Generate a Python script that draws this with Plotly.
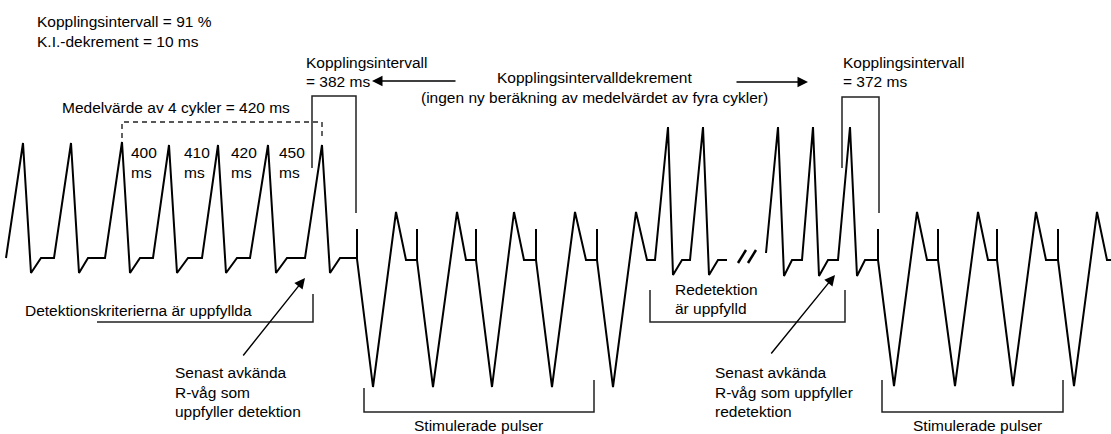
import plotly.graph_objects as go

# ---------------- data ----------------
# ECG trace, segment before the "//" break: time position, amplitude position
ecg_a_t = [6, 23, 31, 41, 54, 71, 79, 88, 105, 122, 130, 140, 153, 169, 177, 188, 202,
           218, 226, 237, 250, 268, 276, 287, 305, 322, 330, 340, 357, 357, 357,
           373, 396, 406, 417, 417, 417, 433, 457, 466, 476, 476, 476, 492, 514, 524,
           536, 536, 536, 552, 575, 586, 597, 597, 597, 613, 636, 647, 655,
           668, 673, 682, 690, 703, 709, 718, 727]
ecg_a_v = [258, 143, 273, 258, 258, 143, 273, 258, 258, 142, 273, 258, 258, 145, 273, 258, 258,
           145, 273, 258, 258, 145, 273, 258, 258, 145, 273, 258, 258, 229, 259,
           387, 212, 260, 260, 229, 260, 387, 212, 260, 260, 229, 260, 387, 212, 260,
           260, 229, 260, 387, 212, 260, 260, 229, 260, 387, 212, 260, 260,
           127, 275, 260, 260, 127, 275, 260, 260]
# ECG trace, segment after the break
ecg_b_t = [766, 778, 784, 792, 802, 813, 819, 828, 838, 850, 857, 865, 878, 878, 878,
           894, 917, 927, 938, 938, 938, 955, 978, 988, 997, 997, 997, 1013, 1036, 1046,
           1058, 1058, 1058, 1074, 1097, 1107, 1111]
ecg_b_v = [253, 127, 276, 260, 260, 127, 276, 260, 260, 127, 276, 260, 260, 229, 260,
           386, 212, 260, 260, 229, 260, 386, 212, 260, 260, 229, 260, 386, 212, 260,
           260, 229, 260, 386, 212, 260, 260]

# brackets / boxes
box1_x, box1_y = [312, 312, 356, 356], [168, 96, 96, 213]
box2_x, box2_y = [842, 842, 879, 879], [168, 97, 97, 213]
avg_x, avg_y = [122, 122, 322, 322], [138, 122, 122, 136]
det_x, det_y = [97, 313, 313], [322, 322, 294]
redet_x, redet_y = [650, 650, 845, 845], [290, 322, 322, 290]
stim1_x, stim1_y = [364, 364, 594, 594], [388, 412, 412, 380]
stim2_x, stim2_y = [882, 882, 1063, 1063], [380, 412, 412, 380]
brk1_x, brk1_y = [738, 746], [263, 250]
brk2_x, brk2_y = [748, 756], [263, 250]

# interval labels
interval_vals = ["400", "410", "420", "450"]
interval_x = [129, 182, 229, 277]

# left-anchored text: (x, y, text)
texts_left = [
    (35, 21, "Kopplingsintervall = 91 %"),
    (35, 41, "K.I.-dekrement = 10 ms"),
    (304, 62, "Kopplingsintervall"),
    (304, 81, "= 382 ms"),
    (841, 62, "Kopplingsintervall"),
    (841, 81, "= 372 ms"),
    (60, 107, "Medelvärde av 4 cykler = 420 ms"),
    (23, 310, "Detektionskriterierna är uppfyllda"),
    (173, 372, "Senast avkända"),
    (173, 392, "R-våg som"),
    (173, 411, "uppfyller detektion"),
    (673, 289, "Redetektion"),
    (673, 308, "är uppfylld"),
    (713, 372, "Senast avkända"),
    (713, 392, "R-våg som uppfyller"),
    (713, 411, "redetektion"),
]
texts_center = [
    (594, 77, "Kopplingsintervalldekrement"),
    (594, 97, "(ingen ny beräkning av medelvärdet av fyra cykler)"),
    (478, 425, "Stimulerade pulser"),
    (977, 425, "Stimulerade pulser"),
]
# arrows: (tip x, tip y, tail x, tail y)
arrows = [
    (372, 81, 457, 81),
    (808, 82, 735, 82),
    (305, 278, 242, 357),
    (835, 275, 770, 355),
]

# ---------------- figure ----------------
FONT = "Liberation Sans, Arial, sans-serif"
FS = 15.5
fig = go.Figure()

def line(x, y, width=1.4, color="#1a1a1a", dash="solid"):
    fig.add_trace(go.Scatter(x=x, y=y, mode="lines", hoverinfo="skip",
                             line=dict(color=color, width=width, dash=dash)))

line(ecg_a_t, ecg_a_v, width=2, color="black")
line(ecg_b_t, ecg_b_v, width=2, color="black")
for bx, by in [(box1_x, box1_y), (box2_x, box2_y), (det_x, det_y), (redet_x, redet_y),
               (stim1_x, stim1_y), (stim2_x, stim2_y)]:
    line(bx, by, width=1.5, color="#222222")
line(avg_x, avg_y, width=1.4, color="#222222", dash="5px,4px")
line(brk1_x, brk1_y, width=2.5, color="black")
line(brk2_x, brk2_y, width=2.5, color="black")

ann = []
for x, y, t in texts_left:
    ann.append(dict(x=x, y=y, text=t, xanchor="left", yanchor="middle"))
for x, y, t in texts_center:
    ann.append(dict(x=x, y=y, text=t, xanchor="center", yanchor="middle"))
for x, v in zip(interval_x, interval_vals):
    ann.append(dict(x=x, y=152, text=v, xanchor="left", yanchor="middle"))
    ann.append(dict(x=x, y=172, text="ms", xanchor="left", yanchor="middle"))
for a in ann:
    a.update(xref="x", yref="y", showarrow=False,
             font=dict(family=FONT, size=FS, color="black"))
for tx, ty, sx, sy in arrows:
    ann.append(dict(x=tx, y=ty, ax=sx, ay=sy, xref="x", yref="y", axref="x", ayref="y",
                    text="", showarrow=True, arrowhead=2, arrowsize=1.5,
                    arrowwidth=1.4, arrowcolor="black", standoff=0))

fig.update_layout(
    width=1111, height=434,
    margin=dict(l=0, r=0, t=0, b=0),
    paper_bgcolor="white", plot_bgcolor="white",
    showlegend=False,
    xaxis=dict(range=[0, 1111], visible=False, fixedrange=True),
    yaxis=dict(range=[434, 0], visible=False, fixedrange=True),
    annotations=ann,
)

fig.write_html(
    "out.html",
    config={"displayModeBar": False},
    post_script="document.body.style.margin='0';document.body.style.overflow='hidden';",
)
